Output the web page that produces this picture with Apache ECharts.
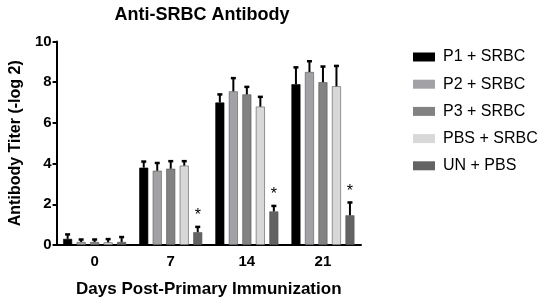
<!DOCTYPE html>
<html>
<head>
<meta charset="utf-8">
<script src="https://cdn.jsdelivr.net/npm/echarts@6/dist/echarts.min.js"></script>
<style>html,body{margin:0;padding:0;background:#fff;}</style>
</head>
<body>
<div id="main" style="width:544px;height:303px;"></div>
<script type="text/javascript">
	// 数据
	var days = ['0', '7', '14', '21'];
	var groupNames = ['P1 + SRBC', 'P2 + SRBC', 'P3 + SRBC', 'PBS + SRBC', 'UN + PBS'];
	var p1 = [0.3, 3.8, 7.0, 7.9];
	var p2 = [0.15, 3.65, 7.55, 8.5];
	var p3 = [0.15, 3.75, 7.4, 8.0];
	var pbs = [0.13, 3.9, 6.8, 7.8];
	var un = [0.15, 0.63, 1.65, 1.46];
	// 误差（仅向上）
	var p1Err = [0.22, 0.3, 0.4, 0.83];
	var p2Err = [0.12, 0.38, 0.65, 0.53];
	var p3Err = [0.12, 0.37, 0.37, 0.77];
	var pbsErr = [0.16, 0.22, 0.48, 1.0];
	var unErr = [0.24, 0.26, 0.27, 0.63];
	var unStar = ['', '*', '*', '*'];
	var yTicks = [0, 2, 4, 6, 8, 10];

	var means = [p1, p2, p3, pbs, un];
	var errs = [p1Err, p2Err, p3Err, pbsErr, unErr];
	var colors = ['#000000', '#a2a2a6', '#828282', '#d8d8d8', '#636363'];

	var BAR_W = 9, GAP = 4.5;
	var font = 'Liberation Sans, Arial, sans-serif';

	var myEcharts = echarts.init(document.getElementById('main'));

	var series = [];
	groupNames.forEach(function (name, i) {
		series.push({
			name: name,
			type: 'bar',
			data: means[i],
			barWidth: BAR_W,
			barGap: '50%',
			itemStyle: {color: colors[i], borderColor: i === 0 ? '#000' : '#555', borderWidth: 0.6},
			z: 2
		});
	});
	// 误差线 + 星号
	var errData = [];
	groupNames.forEach(function (name, i) {
		days.forEach(function (d, j) {
			errData.push([j, means[i][j], means[i][j] + errs[i][j], i, i === 4 ? unStar[j] : '']);
		});
	});
	series.push({
		type: 'custom',
		name: 'err',
		data: errData,
		z: 5,
		silent: true,
		encode: {x: 0, y: [1, 2]},
		renderItem: function (params, api) {
			var j = api.value(0), k = api.value(3);
			var base = api.coord([j, api.value(1)]);
			var top = api.coord([j, api.value(2)]);
			var groupW = 5 * BAR_W + 4 * GAP;
			var x = base[0] - groupW / 2 + BAR_W / 2 + k * (BAR_W + GAP);
			var children = [
				{type: 'line', shape: {x1: x, y1: base[1], x2: x, y2: top[1]}, style: {stroke: '#000', lineWidth: 2}},
				{type: 'line', shape: {x1: x - 2.5, y1: top[1], x2: x + 2.5, y2: top[1]}, style: {stroke: '#000', lineWidth: 2.5}}
			];
			var star = errData[params.dataIndex][4];
			if (star) {
				children.push({type: 'text', style: {text: star, x: x, y: top[1] - 3, textAlign: 'center', textVerticalAlign: 'bottom', fill: '#000', font: '16px ' + font}});
			}
			return {type: 'group', children: children};
		}
	});

	myEcharts.setOption({
		animation: false,
		title: {
			text: 'Anti-SRBC Antibody',
			left: 197, textAlign: 'center', top: 1,
			textStyle: {fontFamily: font, fontSize: 18, fontWeight: 'bold', color: '#000'}
		},
		legend: {
			data: groupNames,
			orient: 'vertical',
			left: 408, top: 43,
			itemWidth: 22, itemHeight: 9, itemGap: 9.2,
			icon: 'rect',
			itemStyle: {borderWidth: 0},
			textStyle: {fontFamily: font, fontSize: 16, color: '#000', padding: [0, 0, 0, 3], lineHeight: 18}
		},
		grid: {left: 49, right: 183, top: 41.5, bottom: 55.5},
		xAxis: {
			type: 'category',
			data: days,
			name: 'Days Post-Primary Immunization',
			nameLocation: 'middle', nameGap: 36,
			nameTextStyle: {fontFamily: font, fontSize: 17, fontWeight: 'bold', color: '#000'},
			axisLine: {lineStyle: {color: '#000', width: 2}},
			axisTick: {alignWithLabel: true, length: 5, lineStyle: {width: 2, color: '#000'}},
			axisLabel: {fontFamily: font, fontSize: 15, fontWeight: 'bold', color: '#000', margin: 9}
		},
		yAxis: {
			type: 'value', min: 0, max: 10, interval: 2,
			name: 'Antibody Titer (-log 2)',
			nameLocation: 'middle', nameGap: 32,
			nameTextStyle: {fontFamily: font, fontSize: 16, fontWeight: 'bold', color: '#000'},
			axisLine: {show: true, lineStyle: {color: '#000', width: 2}},
			axisTick: {show: true, length: 4, lineStyle: {width: 2, color: '#000'}},
			splitLine: {show: false},
			axisLabel: {fontFamily: font, fontSize: 15, fontWeight: 'bold', color: '#000', margin: 5,
				formatter: function (v) { return yTicks.indexOf(v) >= 0 ? v : ''; }}
		},
		series: series
	});
</script>
</body>
</html>
